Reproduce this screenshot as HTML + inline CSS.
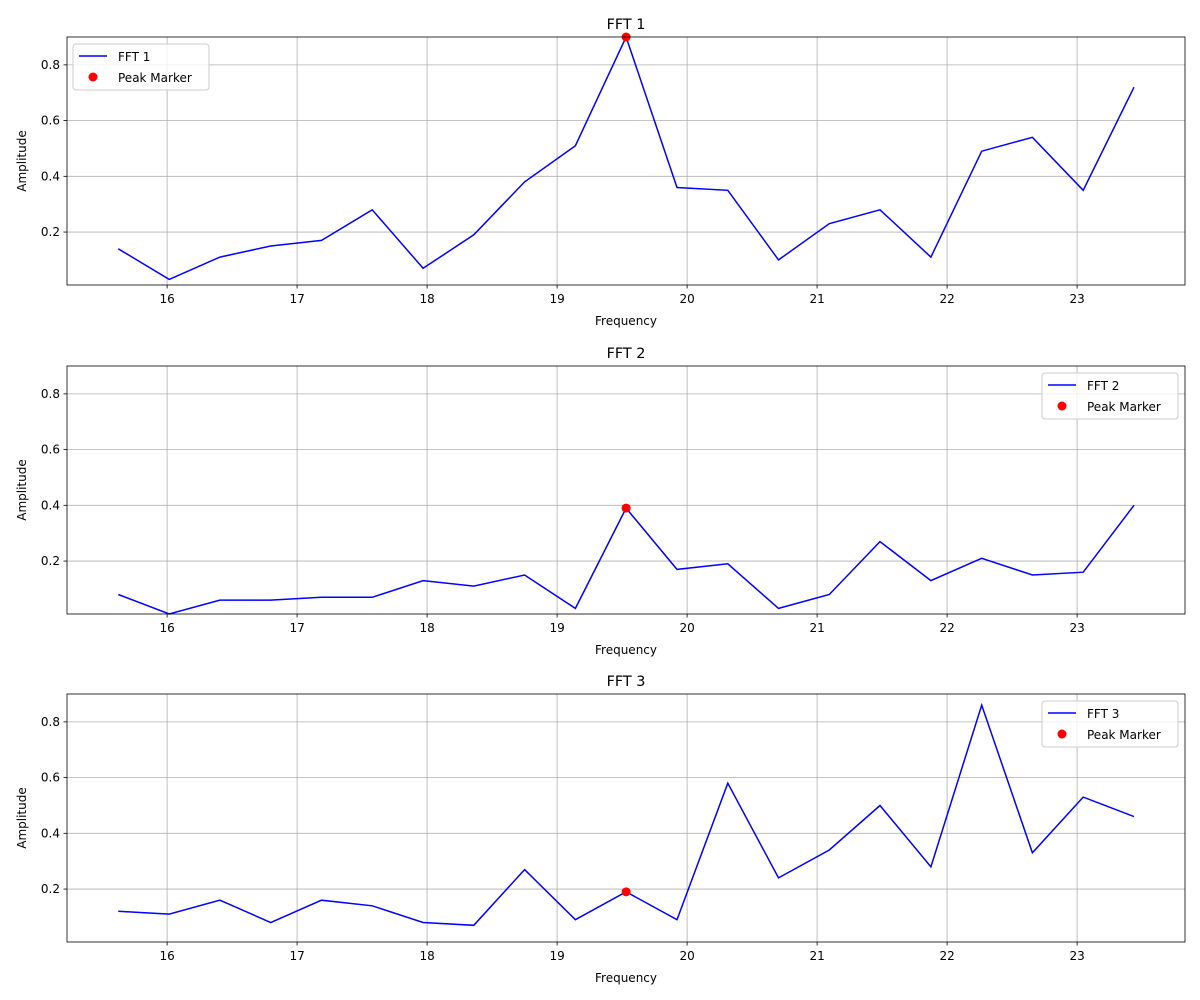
<!DOCTYPE html>
<html><head><meta charset="utf-8">
<style>
body{margin:0;background:#fff;}
svg{display:block;font-family:"DejaVu Sans","Liberation Sans",sans-serif;}
</style></head>
<body>
<svg id="chart" width="1200" height="1000" viewBox="0 0 1200 1000"></svg>
<script>
const freqs = [15.625,16.016,16.406,16.797,17.188,17.578,17.969,18.359,18.75,19.141,19.531,19.922,20.313,20.703,21.094,21.484,21.875,22.266,22.656,23.047,23.438];
const fft1 = [0.14,0.03,0.11,0.15,0.17,0.28,0.07,0.19,0.38,0.51,0.90,0.36,0.35,0.10,0.23,0.28,0.11,0.49,0.54,0.35,0.72];
const fft2 = [0.08,0.01,0.06,0.06,0.07,0.07,0.13,0.11,0.15,0.03,0.39,0.17,0.19,0.03,0.08,0.27,0.13,0.21,0.15,0.16,0.40];
const fft3 = [0.12,0.11,0.16,0.08,0.16,0.14,0.08,0.07,0.27,0.09,0.19,0.09,0.58,0.24,0.34,0.50,0.28,0.86,0.33,0.53,0.46];
const peakIndex = [10,10,10];
const xTicks = [16,17,18,19,20,21,22,23];
const yTicks = [0.2,0.4,0.6,0.8];
const titles = ["FFT 1","FFT 2","FFT 3"];

const NS="http://www.w3.org/2000/svg";
const svg=document.getElementById('chart');
function mk(tag,attrs,parent,text){const e=document.createElementNS(NS,tag);for(const k in attrs)e.setAttribute(k,attrs[k]);if(text!==undefined)e.textContent=text;(parent||svg).appendChild(e);return e;}
const L=67,R=1185,xmin=15.23,xmax=23.83;
const tops=[37,366,694],H=248,ymin=0.01,ymax=0.9;
const xs=v=>L+(v-xmin)/(xmax-xmin)*(R-L);
const series=[fft1,fft2,fft3];
series.forEach((data,p)=>{
  const top=tops[p],bot=top+H;
  const ys=v=>bot-(v-ymin)/(ymax-ymin)*H;
  const g=mk('g',{});
  
  
  xTicks.forEach(t=>{const x=xs(t);
    const gl=mk('line',{x1:x,x2:x,y1:top,y2:bot,stroke:'#b0b0b0','stroke-width':0.8},g);
    
    mk('line',{x1:x,x2:x,y1:bot,y2:bot+3.5,stroke:'#000','stroke-width':0.8},g);
    const tl=mk('text',{x:x,y:bot+18,'text-anchor':'middle','font-size':12},g,String(t));
    
  });
  yTicks.forEach(t=>{const y=ys(t);
    const gl=mk('line',{x1:L,x2:R,y1:y,y2:y,stroke:'#b0b0b0','stroke-width':0.8},g);
    
    mk('line',{x1:L-3.5,x2:L,y1:y,y2:y,stroke:'#000','stroke-width':0.8},g);
    const tl=mk('text',{x:L-7,y:y+4,'text-anchor':'end','font-size':12},g,t.toFixed(1));
    
  });
  const pts=data.map((v,i)=>xs(freqs[i]).toFixed(1)+','+ys(v).toFixed(1)).join(' ');
  const line=mk('polyline',{points:pts,fill:'none',stroke:'#0000ff','stroke-width':1.5},g);
  
  const pi=peakIndex[p];
  const m=mk('circle',{cx:xs(freqs[pi]),cy:ys(data[pi]),r:4.5,fill:'#ff0000'},g);
  
  const fr=mk('rect',{x:L,y:top,width:R-L,height:H,fill:'none',stroke:'#000','stroke-width':0.8},g);
  
  const tt=mk('text',{x:(L+R)/2,y:top-8,'text-anchor':'middle','font-size':14.4},g,titles[p]);
  
  const xl=mk('text',{x:(L+R)/2,y:bot+40,'text-anchor':'middle','font-size':12},g,'Frequency');
  
  const yl=mk('text',{x:26,y:top+H/2,'text-anchor':'middle','font-size':12,transform:`rotate(-90 26 ${top+H/2})`},g,'Amplitude');
  
  const lx=p===0?73:1042,ly=top+7;
  const lg=mk('g',{},g);
  
  mk('rect',{x:lx,y:ly,width:136,height:46,rx:3,fill:'#fff','fill-opacity':0.8,stroke:'#ccc'},lg);
  mk('line',{x1:lx+6,x2:lx+34,y1:ly+12,y2:ly+12,stroke:'#0000ff','stroke-width':1.5},lg);
  const t1=mk('text',{x:lx+45,y:ly+17,'font-size':12},lg,titles[p]);
  
  mk('circle',{cx:lx+20,cy:ly+33,r:4.5,fill:'#ff0000'},lg);
  const t2=mk('text',{x:lx+45,y:ly+38,'font-size':12},lg,'Peak Marker');
  
});
</script>
</body></html>
